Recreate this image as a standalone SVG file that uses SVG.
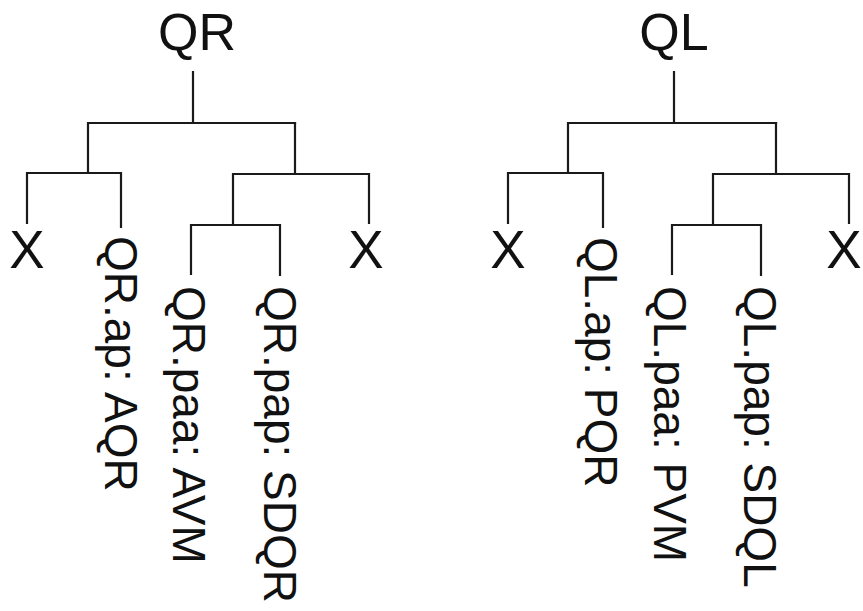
<svg xmlns="http://www.w3.org/2000/svg" width="863" height="611" viewBox="0 0 863 611">
  <style>
    .bg { fill: #ffffff; }
    .edge { fill: none; stroke: #1a1a1a; stroke-width: 2.2; stroke-linecap: square; }
    .root { font-family: "Liberation Sans", Arial, sans-serif; font-size: 52px; fill: #111111; text-anchor: middle; }
    .leaf { font-family: "Liberation Sans", Arial, sans-serif; font-size: 53px; fill: #111111; text-anchor: middle; }
    .vlabel { font-family: "Liberation Sans", Arial, sans-serif; font-size: 46px; fill: #111111; }
  </style>
  <rect class="bg" x="0" y="0" width="863" height="611"/>

  <!-- tree edges -->
  <g id="connectors">
    <!-- QR tree -->
    <path class="edge" d="M193 72 V123 M88 123 H295 M88 123 V173 M27 173 H121 M27 173 V223 M121 173 V227"/>
    <path class="edge" d="M295 123 V174 M233 174 H369 M369 174 V223 M233 174 V225 M191 225 H280 M191 225 V274 M280 225 V275"/>
    <!-- QL tree -->
    <path class="edge" d="M674 72 V123 M568 123 H776 M568 123 V173 M508 173 H603 M508 173 V223 M603 173 V227"/>
    <path class="edge" d="M776 123 V174 M713 174 H849 M849 174 V223 M713 174 V225 M672 225 H761 M672 225 V274 M761 225 V275"/>
  </g>

  <!-- QR tree nodes -->
  <g id="qr-root"><text class="root" x="197" y="50">QR</text></g>
  <g id="qr-x-left"><text class="leaf" x="27" y="268">X</text></g>
  <g id="qr-ap"><text class="vlabel" transform="translate(104.5,236) rotate(90)">QR.ap: AQR</text></g>
  <g id="qr-paa"><text class="vlabel" transform="translate(173,286) rotate(90)">QR.paa: AVM</text></g>
  <g id="qr-pap"><text class="vlabel" transform="translate(263.5,286) rotate(90)">QR.pap: SDQR</text></g>
  <g id="qr-x-right"><text class="leaf" x="366" y="268">X</text></g>

  <!-- QL tree nodes -->
  <g id="ql-root"><text class="root" x="674" y="50">QL</text></g>
  <g id="ql-x-left"><text class="leaf" x="508" y="268">X</text></g>
  <g id="ql-ap"><text class="vlabel" transform="translate(585,237) rotate(90)">QL.ap: PQR</text></g>
  <g id="ql-paa"><text class="vlabel" transform="translate(654,286) rotate(90)">QL.paa: PVM</text></g>
  <g id="ql-pap"><text class="vlabel" transform="translate(744,286) rotate(90)">QL.pap: SDQL</text></g>
  <g id="ql-x-right"><text class="leaf" x="844" y="268">X</text></g>
</svg>
